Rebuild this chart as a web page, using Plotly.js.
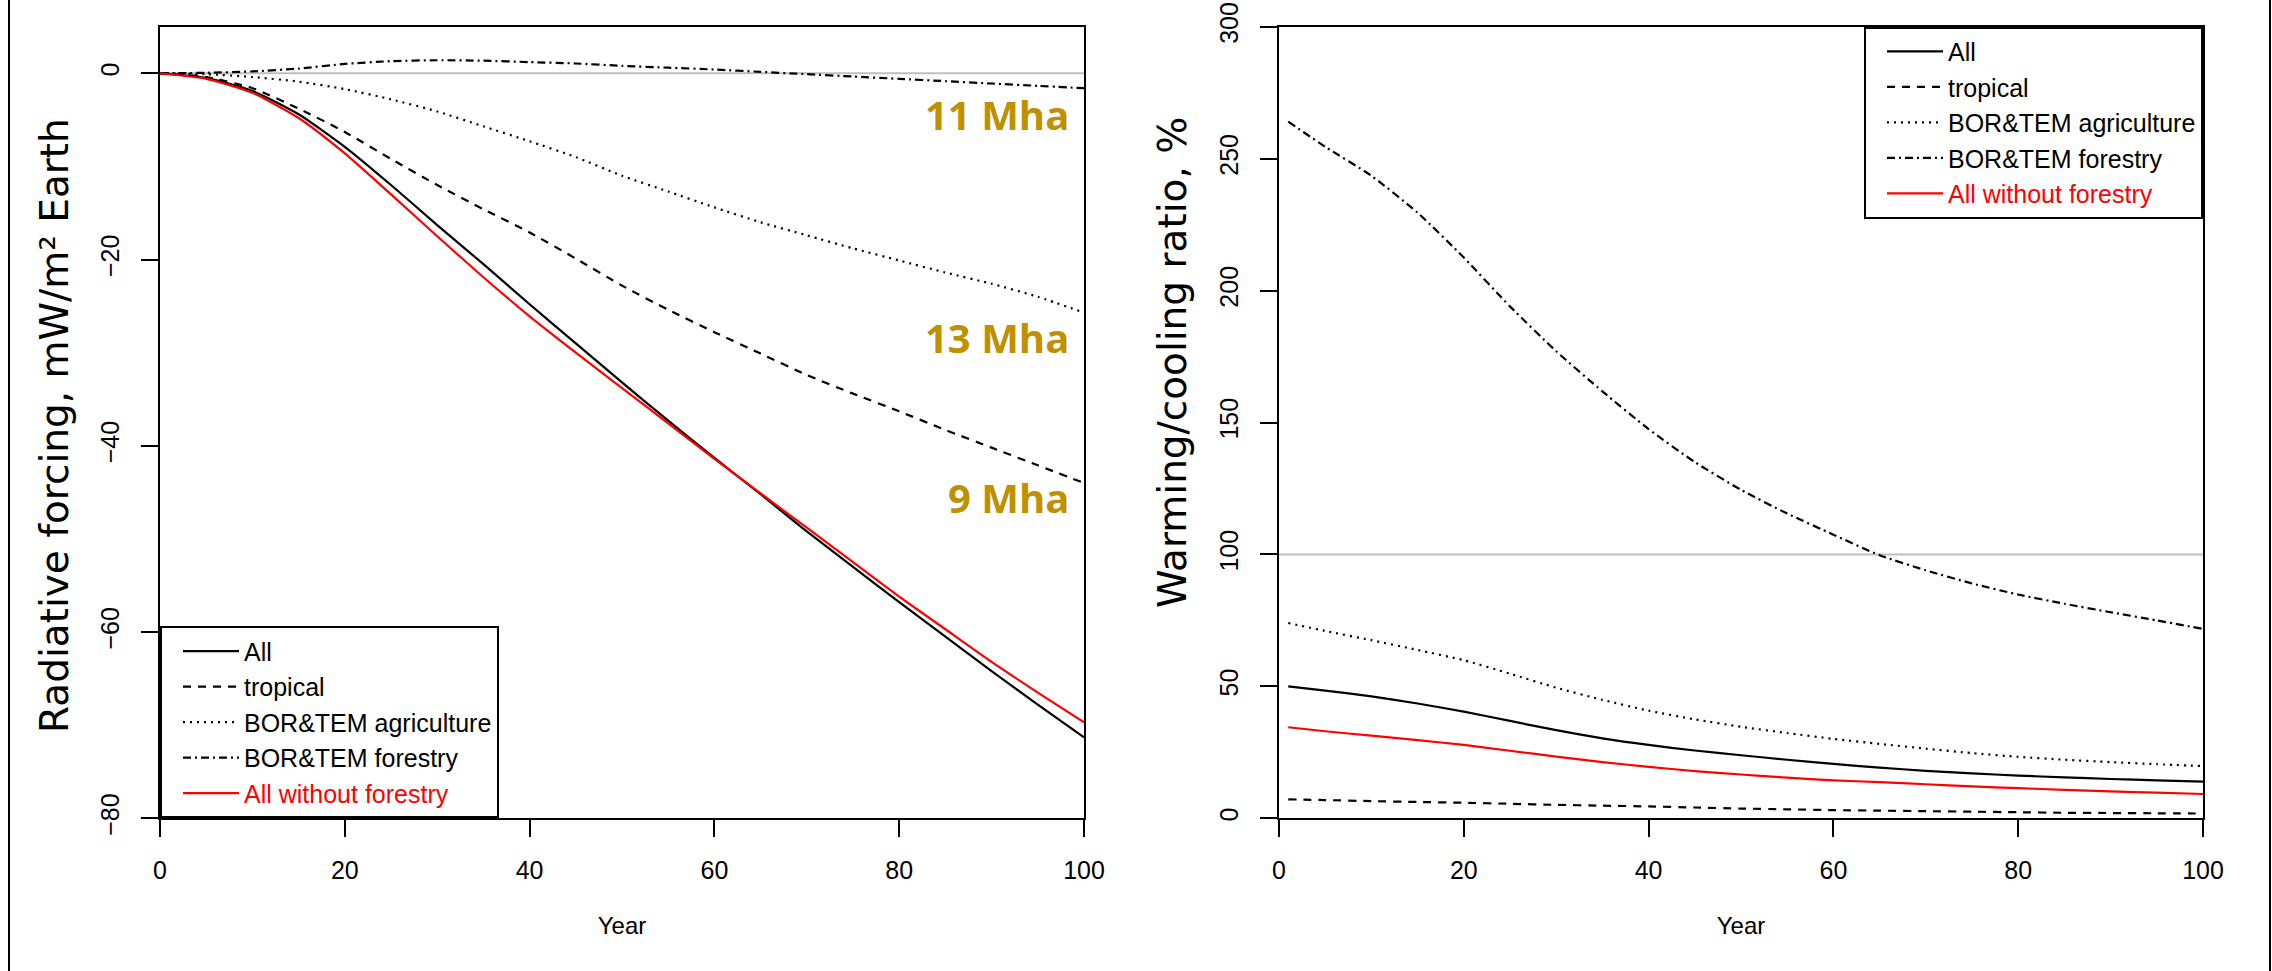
<!DOCTYPE html>
<html>
<head>
<meta charset="utf-8">
<script src="https://cdn.plot.ly/plotly-3.0.1.min.js"></script>
<style>
  html, body { margin: 0; padding: 0; background: #ffffff; }
  #chart { width: 2272px; height: 971px; }
</style>
</head>
<body>
<div id="chart"></div>
<script>
// ---------- data ----------
const seriesNames = ['All', 'tropical', 'BOR&TEM agriculture', 'BOR&TEM forestry', 'All without forestry'];

// Left panel: radiative forcing, mW/m² Earth
const yearsLeft = [0, 5, 10, 15, 20, 25, 30, 35, 40, 45, 50, 55, 60, 65, 70, 75, 80, 85, 90, 95, 100];
const rfAll       = [0, -0.5, -1.9, -4.4, -7.9, -12.0, -16.3, -20.5, -24.8, -29.0, -33.2, -37.3, -41.3, -45.2, -49.2, -53.0, -56.8, -60.5, -64.2, -67.8, -71.3];
const rfTropical  = [0, -0.4, -1.6, -3.8, -6.3, -9.2, -12.0, -14.6, -17.1, -19.9, -22.8, -25.4, -27.8, -30.1, -32.4, -34.4, -36.3, -38.3, -40.2, -42.1, -44.0];
const rfAgri      = [0, -0.1, -0.4, -0.9, -1.7, -2.8, -4.1, -5.7, -7.3, -9.0, -11.0, -12.7, -14.4, -16.0, -17.4, -18.8, -20.1, -21.4, -22.6, -24.0, -25.7];
const rfForestry  = [0, 0.05, 0.2, 0.5, 1.0, 1.3, 1.4, 1.35, 1.2, 1.05, 0.8, 0.6, 0.4, 0.15, -0.1, -0.35, -0.6, -0.85, -1.1, -1.35, -1.6];
const rfNoForest  = [0, -0.6, -2.1, -4.8, -8.6, -13.0, -17.5, -21.9, -26.1, -30.0, -33.8, -37.6, -41.4, -45.1, -48.8, -52.5, -56.2, -59.7, -63.2, -66.5, -69.7];
const rfRefLine = 0;
const areaLabels = ['11 Mha', '13 Mha', '9 Mha'];

// Right panel: warming/cooling ratio, %
const yearsRight = [1, 5, 10, 15, 20, 25, 30, 35, 40, 45, 50, 55, 60, 65, 70, 75, 80, 85, 90, 95, 100];
const ratioAll      = [50, 48.4, 46.2, 43.5, 40.4, 36.9, 33.4, 30.3, 27.8, 25.7, 23.9, 22.2, 20.6, 19.2, 18.0, 17.0, 16.2, 15.5, 14.9, 14.4, 13.9];
const ratioTropical = [7.2, 6.9, 6.5, 6.2, 5.9, 5.5, 5.1, 4.8, 4.5, 4.1, 3.7, 3.4, 3.1, 2.9, 2.7, 2.5, 2.3, 2.1, 2.0, 1.9, 1.8];
const ratioAgri     = [74, 71, 67.5, 63.8, 59.9, 54.8, 49.5, 44.9, 40.8, 37.5, 34.7, 32.3, 30.1, 28.2, 26.4, 24.7, 23.3, 22.2, 21.3, 20.5, 19.8];
const ratioForestry = [264, 254.5, 243.5, 229.5, 212.5, 194, 177, 161.8, 147.5, 135, 124.5, 115.5, 107.5, 99.7, 94, 89, 84.8, 81.3, 78.1, 75, 71.8];
const ratioNoForest = [34.5, 33.0, 31.3, 29.6, 27.8, 25.6, 23.4, 21.3, 19.5, 17.9, 16.6, 15.4, 14.4, 13.7, 12.9, 12.1, 11.4, 10.8, 10.2, 9.7, 9.2];
const ratioRefLine = 100;

const xTicks = [0, 20, 40, 60, 80, 100];
const yTicksLeft = [-80, -60, -40, -20, 0];
const yTicksRight = [0, 50, 100, 150, 200, 250, 300];

// ---------- styling ----------
const W = 2272, H = 971;
const styles = [
  {color: '#000000', dash: 'solid'},
  {color: '#000000', dash: '8px,7px'},
  {color: '#000000', dash: '2px,5px'},
  {color: '#000000', dash: '8px,4px,2px,4px'},
  {color: '#ff0000', dash: 'solid'}
];
function legendName(i) {
  return i === 4 ? '<span style="color:#ff0000">' + seriesNames[i] + '</span>' : seriesNames[i];
}

const leftY = [rfAll, rfTropical, rfAgri, rfForestry, rfNoForest];
const rightY = [ratioAll, ratioTropical, ratioAgri, ratioForestry, ratioNoForest];

const traces = [];
leftY.forEach((ys, i) => traces.push({
  type: 'scatter', mode: 'lines', x: yearsLeft, y: ys, name: legendName(i),
  xaxis: 'x', yaxis: 'y', legend: 'legend',
  line: {color: styles[i].color, dash: styles[i].dash, width: 2.2, shape: 'spline', smoothing: 0.6},
  hoverinfo: 'x+y'
}));
rightY.forEach((ys, i) => traces.push({
  type: 'scatter', mode: 'lines', x: yearsRight, y: ys, name: legendName(i),
  xaxis: 'x2', yaxis: 'y2', legend: 'legend2',
  line: {color: styles[i].color, dash: styles[i].dash, width: 2.2, shape: 'spline', smoothing: 0.6},
  hoverinfo: 'x+y'
}));

const tickFont = {family: 'Liberation Sans, Arial, sans-serif', size: 25, color: '#000000'};
const axisCommon = {
  showline: true, mirror: true, linecolor: '#000000', linewidth: 2,
  ticks: 'outside', ticklen: 17, tickwidth: 2, tickcolor: '#000000',
  showgrid: false, zeroline: false, tickfont: tickFont, automargin: false,
  fixedrange: true
};

const plotBottom = 1 - 818.3 / H, plotTop = 1 - 26.7 / H;
const legendFont = {family: 'Liberation Sans, Arial, sans-serif', size: 25, color: '#000000'};

const layout = {
  width: W, height: H,
  margin: {l: 0, r: 0, t: 0, b: 0},
  paper_bgcolor: '#ffffff', plot_bgcolor: '#ffffff',
  font: {family: 'Liberation Sans, Arial, sans-serif', color: '#000000'},
  showlegend: true,
  xaxis: Object.assign({}, axisCommon, {
    domain: [160 / W, 1084 / W], range: [0, 100], anchor: 'y',
    tickvals: xTicks, ticklabelstandoff: 12,
    title: {text: 'Year', font: {family: 'Liberation Sans, Arial, sans-serif', size: 24, color: '#000000'}, standoff: 34}
  }),
  yaxis: Object.assign({}, axisCommon, {
    domain: [plotBottom, plotTop], range: [-80, 5.0], anchor: 'x',
    tickvals: yTicksLeft, tickangle: -90, ticklabelstandoff: 12
  }),
  xaxis2: Object.assign({}, axisCommon, {
    domain: [1279 / W, 2203 / W], range: [0, 100], anchor: 'y2',
    tickvals: xTicks, ticklabelstandoff: 12,
    title: {text: 'Year', font: {family: 'Liberation Sans, Arial, sans-serif', size: 24, color: '#000000'}, standoff: 34}
  }),
  yaxis2: Object.assign({}, axisCommon, {
    domain: [plotBottom, plotTop], range: [0, 300], anchor: 'x2',
    tickvals: yTicksRight, tickangle: -90, ticklabelstandoff: 12
  }),
  legend: {
    x: 160 / W, xanchor: 'left', y: plotBottom, yanchor: 'bottom',
    bgcolor: '#ffffff', bordercolor: '#000000', borderwidth: 2,
    font: legendFont, traceorder: 'normal', itemwidth: 56, indentation: 16
  },
  legend2: {
    x: 2203 / W, xanchor: 'right', y: plotTop, yanchor: 'top',
    bgcolor: '#ffffff', bordercolor: '#000000', borderwidth: 2,
    font: legendFont, traceorder: 'normal', itemwidth: 56, indentation: 16
  },
  shapes: [
    {type: 'line', xref: 'x', yref: 'y', x0: 0, x1: 100, y0: rfRefLine, y1: rfRefLine,
     line: {color: '#bebebe', width: 2}, layer: 'below'},
    {type: 'line', xref: 'x2', yref: 'y2', x0: 0, x1: 100, y0: ratioRefLine, y1: ratioRefLine,
     line: {color: '#bebebe', width: 2}, layer: 'below'},
    {type: 'line', xref: 'paper', yref: 'paper', x0: 9 / W, x1: 9 / W, y0: 0, y1: 1,
     line: {color: '#000000', width: 2}},
    {type: 'line', xref: 'paper', yref: 'paper', x0: 2270 / W, x1: 2270 / W, y0: 0, y1: 1,
     line: {color: '#000000', width: 2}}
  ],
  annotations: [
    {text: 'Radiative forcing, mW/m² Earth', xref: 'paper', yref: 'paper',
     x: 55 / W, y: 1 - 426 / H, xanchor: 'center', yanchor: 'middle', textangle: -90, showarrow: false,
     font: {family: 'DejaVu Sans, Verdana, sans-serif', size: 39, color: '#000000'}},
    {text: 'Warming/cooling ratio, %', xref: 'paper', yref: 'paper',
     x: 1173 / W, y: 1 - 363 / H, xanchor: 'center', yanchor: 'middle', textangle: -90, showarrow: false,
     font: {family: 'DejaVu Sans, Verdana, sans-serif', size: 39, color: '#000000'}},
    {text: '<b>' + areaLabels[0] + '</b>', xref: 'x', yref: 'y', x: 98.6, y: -4.4, xanchor: 'right', yanchor: 'middle',
     showarrow: false, font: {family: 'Open Sans, sans-serif', size: 40, color: '#bf9000'}},
    {text: '<b>' + areaLabels[1] + '</b>', xref: 'x', yref: 'y', x: 98.6, y: -28.4, xanchor: 'right', yanchor: 'middle',
     showarrow: false, font: {family: 'Open Sans, sans-serif', size: 40, color: '#bf9000'}},
    {text: '<b>' + areaLabels[2] + '</b>', xref: 'x', yref: 'y', x: 98.6, y: -45.6, xanchor: 'right', yanchor: 'middle',
     showarrow: false, font: {family: 'Open Sans, sans-serif', size: 40, color: '#bf9000'}}
  ]
};

Plotly.newPlot('chart', traces, layout, {displayModeBar: false, staticPlot: true});
</script>
</body>
</html>
